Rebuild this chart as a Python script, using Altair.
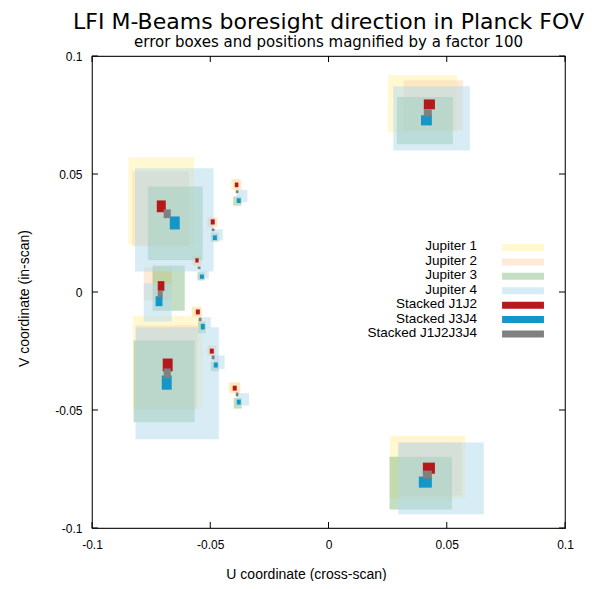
import altair as alt
import pandas as pd

# ---------------- data ----------------
series = ["Jupiter 1", "Jupiter 2", "Jupiter 3", "Jupiter 4",
          "Stacked J1J2", "Stacked J3J4", "Stacked J1J2J3J4"]
colors = ["#FFF1A5", "#FBD7B3", "#8CC08A", "#B4DAEE",
          "#B5191B", "#1496C8", "#808080"]

horns = ["LFI27", "LFI28", "LFI25", "LFI24", "LFI26",
         "LFI18", "LFI19", "LFI20", "LFI23", "LFI22", "LFI21"]

# boxes per horn: [u_min, u_max, v_min, v_max]
jupiter1 = [[0.0252, 0.0543, 0.0678, 0.0918], [0.0260, 0.0578, -0.0876, -0.0609],
            [-0.0846, -0.0568, 0.0200, 0.0572], [-0.0744, -0.0663, 0.0006, 0.0108],
            [-0.0827, -0.0533, -0.0495, -0.0101], [-0.0413, -0.0375, 0.0433, 0.0480],
            [-0.0515, -0.0472, 0.0275, 0.0317], [-0.0577, -0.0537, 0.0112, 0.0155],
            [-0.0579, -0.0537, -0.0104, -0.0062], [-0.0515, -0.0477, -0.0269, -0.0226],
            [-0.0425, -0.0375, -0.0429, -0.0383]]
jupiter2 = [[0.0319, 0.0568, 0.0685, 0.0897], [0.0295, 0.0564, -0.0863, -0.0637],
            [-0.0829, -0.0590, 0.0193, 0.0512], [-0.0781, -0.0663, -0.0036, 0.0105],
            [-0.0815, -0.0554, -0.0497, -0.0141], [-0.0405, -0.0368, 0.0433, 0.0477],
            [-0.0511, -0.0470, 0.0274, 0.0316], [-0.0574, -0.0536, 0.0112, 0.0153],
            [-0.0576, -0.0536, -0.0104, -0.0064], [-0.0511, -0.0475, -0.0269, -0.0227],
            [-0.0417, -0.0373, -0.0426, -0.0384]]
jupiter3 = [[0.0289, 0.0526, 0.0626, 0.0826], [0.0258, 0.0522, -0.0922, -0.0698],
            [-0.0764, -0.0532, 0.0135, 0.0447], [-0.0744, -0.0608, -0.0079, 0.0112],
            [-0.0824, -0.0566, -0.0552, -0.0206], [-0.0403, -0.0368, 0.0366, 0.0405],
            [-0.0498, -0.0465, 0.0213, 0.0252], [-0.0554, -0.0523, 0.0049, 0.0084],
            [-0.0552, -0.0519, -0.0175, -0.0126], [-0.0498, -0.0464, -0.0336, -0.0294],
            [-0.0401, -0.0367, -0.0494, -0.0449]]
jupiter4 = [[0.0274, 0.0598, 0.0600, 0.0872], [0.0295, 0.0657, -0.0942, -0.0638],
            [-0.0818, -0.0486, 0.0087, 0.0524], [-0.0781, -0.0663, -0.0125, 0.0036],
            [-0.0816, -0.0464, -0.0624, -0.0149], [-0.0389, -0.0343, 0.0381, 0.0433],
            [-0.0488, -0.0447, 0.0218, 0.0266], [-0.0544, -0.0506, 0.0057, 0.0091],
            [-0.0544, -0.0498, -0.0152, -0.0107], [-0.0485, -0.0439, -0.0326, -0.0269],
            [-0.0389, -0.0336, -0.0481, -0.0429]]
stacked_j1j2 = [[0.0403, 0.0450, 0.0774, 0.0816], [0.0399, 0.0450, -0.0770, -0.0723],
                [-0.0726, -0.0688, 0.0338, 0.0388], [-0.0722, -0.0694, 0.0005, 0.0046],
                [-0.0701, -0.0659, -0.0336, -0.0282], [-0.0396, -0.0381, 0.0444, 0.0464],
                [-0.0498, -0.0481, 0.0286, 0.0308], [-0.0563, -0.0549, 0.0125, 0.0143],
                [-0.0561, -0.0544, -0.0095, -0.0074], [-0.0502, -0.0485, -0.0261, -0.0240],
                [-0.0405, -0.0388, -0.0418, -0.0397]]
stacked_j3j4 = [[0.0391, 0.0437, 0.0706, 0.0749], [0.0382, 0.0437, -0.0829, -0.0782],
                [-0.0671, -0.0629, 0.0265, 0.0320], [-0.0731, -0.0702, -0.0060, -0.0018],
                [-0.0705, -0.0663, -0.0414, -0.0354], [-0.0388, -0.0371, 0.0377, 0.0397],
                [-0.0489, -0.0472, 0.0220, 0.0240], [-0.0544, -0.0527, 0.0056, 0.0074],
                [-0.0540, -0.0523, -0.0159, -0.0135], [-0.0485, -0.0468, -0.0320, -0.0299],
                [-0.0388, -0.0371, -0.0477, -0.0456]]
stacked_all = [[0.0403, 0.0437, 0.0744, 0.0774], [0.0399, 0.0437, -0.0791, -0.0757],
               [-0.0697, -0.0667, 0.0313, 0.0350], [-0.0722, -0.0701, -0.0022, 0.0006],
               [-0.0697, -0.0667, -0.0366, -0.0324], [-0.0392, -0.0381, 0.0419, 0.0431],
               [-0.0494, -0.0482, 0.0258, 0.0269], [-0.0553, -0.0541, 0.0097, 0.0108],
               [-0.0549, -0.0537, -0.0124, -0.0109], [-0.0494, -0.0482, -0.0285, -0.0269],
               [-0.0392, -0.0381, -0.0442, -0.0426]]

tick_values = [-0.1, -0.05, 0, 0.05, 0.1]

# ---------------- tables ----------------
all_boxes = [jupiter1, jupiter2, jupiter3, jupiter4, stacked_j1j2, stacked_j3j4, stacked_all]
rows = []
order = 0
for name, boxes in zip(series, all_boxes):
    for horn, b in zip(horns, boxes):
        rows.append({"series": name, "horn": horn, "u1": b[0], "u2": b[1],
                     "v1": b[2], "v2": b[3], "order": order,
                     "kind": "jupiter" if name.startswith("Jupiter") else "stacked"})
        order += 1
df = pd.DataFrame(rows)
leg = pd.DataFrame({"series": series, "row": list(range(len(series))),
                    "kind": ["jupiter"] * 4 + ["stacked"] * 3})
ticks = pd.DataFrame({"t": tick_values})

FONT = "Liberation Sans"
dom = [-0.1, 0.1]
x_axis = alt.Axis(values=tick_values, labelExpr="'' + datum.value", domain=False,
                  ticks=False, grid=False, labelPadding=11, labelFontSize=12,
                  labelFont=FONT, labelColor="black", labelFlush=False,
                  labelOverlap=False, title="U coordinate (cross-scan)",
                  titleFont=FONT, titleFontSize=14, titleFontWeight="normal",
                  titleColor="black", titleX=214, titleY=50.5,
                  titleBaseline="alphabetic", titleAlign="center")
y_axis = alt.Axis(values=tick_values, labelExpr="'' + datum.value", domain=False,
                  ticks=False, grid=False, labelPadding=10, labelFontSize=12,
                  labelFont=FONT, labelColor="black", labelFlush=False,
                  labelOverlap=False, title="V coordinate (in-scan)",
                  titleFont=FONT, titleFontSize=14, titleFontWeight="normal",
                  titleColor="black", titleX=-64, titleY=242, titleAngle=270,
                  titleBaseline="alphabetic", titleAlign="center")
xs = alt.Scale(domain=dom, nice=False, zero=False)
ys = alt.Scale(domain=dom, nice=False, zero=False)
cs = alt.Scale(domain=series, range=colors)


def box_layer(kind, alpha):
    return alt.Chart(df).transform_filter(alt.datum.kind == kind).mark_rect(
        strokeWidth=0, opacity=alpha).encode(
        x=alt.X("u1:Q", scale=xs, axis=x_axis),
        x2="u2:Q",
        y=alt.Y("v1:Q", scale=ys, axis=y_axis),
        y2="v2:Q",
        color=alt.Color("series:N", scale=cs, legend=None),
        order=alt.Order("order:Q"),
    )


jup_layer = box_layer("jupiter", 0.52)
stk_layer = box_layer("stacked", 1.0)

# legend drawn inside the plot (labels left of swatches)
leg_base = alt.Chart(leg).transform_calculate(
    ly="0.01887 - datum.row * 0.00611",
    ly1="0.01887 - datum.row * 0.00611 - 0.00148",
    ly2="0.01887 - datum.row * 0.00611 + 0.00148",
    lx="0.0628", sx1="0.0734", sx2="0.0911",
)


def leg_rect(kind, alpha):
    return leg_base.transform_filter(alt.datum.kind == kind).mark_rect(
        strokeWidth=0, opacity=alpha).encode(
        x=alt.X("sx1:Q", scale=xs, axis=x_axis), x2="sx2:Q",
        y=alt.Y("ly1:Q", scale=ys, axis=y_axis), y2="ly2:Q",
        color=alt.Color("series:N", scale=cs, legend=None),
    )


leg_text = leg_base.mark_text(align="right", baseline="middle", font=FONT,
                              fontSize=13.5, color="black", dy=-1).encode(
    x=alt.X("lx:Q", scale=xs, axis=x_axis),
    y=alt.Y("ly:Q", scale=ys, axis=y_axis),
    text="series:N",
)

# inward ticks on all four sides
tick_b = alt.Chart(ticks).mark_rule(color="black", strokeWidth=1).encode(
    x=alt.X("t:Q", scale=xs, axis=x_axis), y=alt.value(472), y2=alt.value(466))
tick_t = alt.Chart(ticks).mark_rule(color="black", strokeWidth=1).encode(
    x=alt.X("t:Q", scale=xs, axis=x_axis), y=alt.value(0), y2=alt.value(6))
tick_l = alt.Chart(ticks).mark_rule(color="black", strokeWidth=1).encode(
    y=alt.Y("t:Q", scale=ys, axis=y_axis), x=alt.value(0), x2=alt.value(6))
tick_r = alt.Chart(ticks).mark_rule(color="black", strokeWidth=1).encode(
    y=alt.Y("t:Q", scale=ys, axis=y_axis), x=alt.value(473), x2=alt.value(467))

chart = alt.layer(jup_layer, stk_layer, leg_rect("jupiter", 0.52), leg_rect("stacked", 1.0),
                  leg_text, tick_b, tick_t, tick_l, tick_r).properties(
    width=473, height=472,
    autosize=alt.AutoSizeParams(type="none"),
    padding={"left": 84, "top": 48, "right": 32, "bottom": 53},
    title=alt.TitleParams(
        text="LFI M-Beams boresight direction in Planck FOV",
        subtitle="error boxes and positions magnified by a factor 100",
        font="DejaVu Sans", fontSize=22, fontWeight="normal", color="black",
        subtitleFont="DejaVu Sans", subtitleFontSize=15, subtitleColor="black",
        anchor="middle", offset=-1, subtitlePadding=1.5),
).configure_view(stroke="#222222", strokeWidth=1.2)

chart.save("out.html", embed_options={"renderer": "svg", "actions": False})
